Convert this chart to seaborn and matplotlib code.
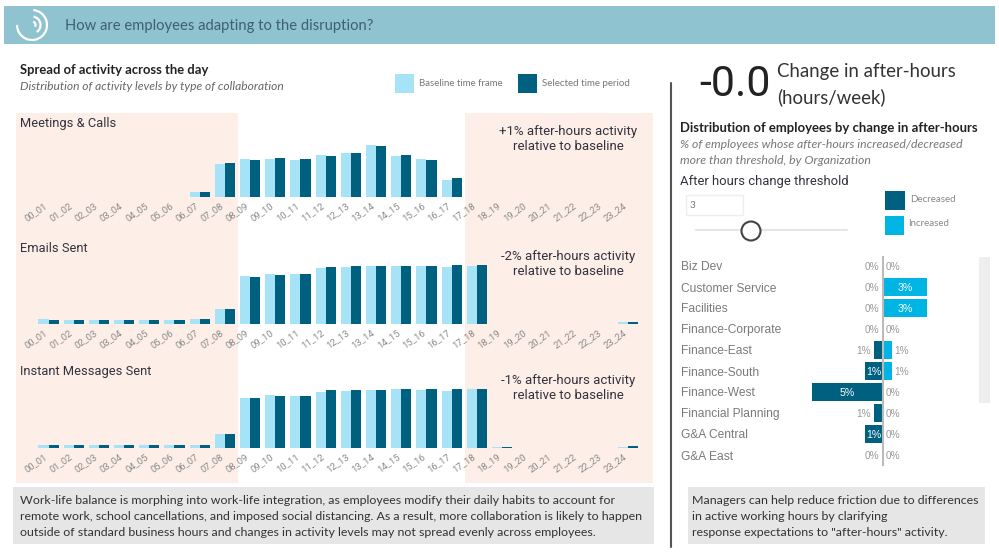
import matplotlib
matplotlib.use("Agg")
import matplotlib.pyplot as plt
from matplotlib.patches import Rectangle, Arc, Circle
from matplotlib.transforms import ScaledTranslation
import numpy as np
import pandas as pd
import seaborn as sns

sns.set_theme(style="white")

W, H = 999, 555
PX = 0.72  # font px to pt at dpi 100

hours = ["00_01","01_02","02_03","03_04","04_05","05_06","06_07","07_08","08_09","09_10","10_11","11_12",
         "12_13","13_14","14_15","15_16","16_17","17_18","18_19","19_20","20_21","21_22","22_23","23_24"]

meet_base = [0,0,0,0,0,0,5,33,37.7,38,37,41.7,44,52,41.3,38.3,17.3,0,0,0,0,0,0,0]
meet_sel  = [0,0,0,0,0,0,4.7,34,37,38.7,38.3,40.7,44.3,50.7,41.7,37,19.3,0,0,0,0,0,0,0]
mail_base = [4.7,4.3,4.3,4.3,4.3,4.3,5,14.7,47.7,49.7,50.3,56,57,57.7,58.3,57.7,57,58.3,0,0,0,0,0,2.3]
mail_sel  = [4.3,4.3,4.3,4.3,4.3,4.3,4.7,14.7,47,48.7,50.3,57,58.3,58.3,58.3,58.3,59,58.7,0,0,0,0,0,2.3]
chat_base = [3.3,3,3,3,3,3,3.3,14,50.3,52.7,52.3,56.3,57.3,58.3,58.7,58.3,57.3,59.3,1.3,0,0,0,0,1.3]
chat_sel  = [3.3,2.7,2.7,2.7,2.7,2.7,3,14,50,51.7,52.3,57.7,58,58,58.7,58.7,59.3,59.3,1.3,0,0,0,0,1.7]

orgs = ["Biz Dev","Customer Service","Facilities","Finance-Corporate","Finance-East",
        "Finance-South","Finance-West","Financial Planning","G&A Central","G&A East"]
decreased = [0,0,0,0,0.6,1.2,4.8,0.6,1.2,0]
increased = [0,3.0,3.0,0,0.6,0.6,0,0,0,0]

LIGHT, DARK = "#A6E3F7", "#00607F"
INC = "#00B4E3"
PEACH = "#FDEEE8"
HEAD = "Lato"
DIN = "Roboto"
ARIAL = "Liberation Sans"

fig = plt.figure(figsize=(W/100, H/100), dpi=100, facecolor="white")
bg = fig.add_axes([0, 0, 1, 1], zorder=0)
bg.set_xlim(0, W); bg.set_ylim(H, 0); bg.axis("off")

def rect(x0, y0, x1, y1, **kw):
    kw.setdefault("lw", 0)
    bg.add_patch(Rectangle((x0, y0), x1-x0, y1-y0, **kw))

def txt(x, y, s, px, color="#333333", family=HEAD, ha="left", **kw):
    bg.text(x, y, s, fontsize=px*PX, color=color, family=family, ha=ha, va="center", **kw)

# banner
rect(4, 6, 995, 44, fc="#8FC3D0")
for r, a, b in [(15, -85, 180), (8.5, -80, 55), (3.5, -70, 30)]:
    bg.add_patch(Arc((32, 25), 2*r, 2*r, theta1=a, theta2=b, color="white", lw=1.6))
txt(65, 26, "How are employees adapting to the disruption?", 14.8, color="#3F5F70")

# left header
txt(20, 69.5, "Spread of activity across the day", 13, color="#222222", weight="bold")
txt(20, 86, "Distribution of activity levels by type of collaboration", 12, color="#666666", style="italic")
rect(395, 74, 414, 93, fc=LIGHT)
txt(419, 83, "Baseline time frame", 9.7, color="#777777")
rect(518, 74, 537, 93, fc=DARK)
txt(542, 83, "Selected time period", 9.8, color="#777777")

# after-hours shaded panels
rect(16, 113, 238, 483, fc=PEACH)
rect(465, 113, 653, 483, fc=PEACH)

# small multiples
panels = [("Meetings & Calls", meet_base, meet_sel, 197, 122, "+1% after-hours activity", 131),
          ("Emails Sent", mail_base, mail_sel, 324, 247, "-2% after-hours activity", 256),
          ("Instant Messages Sent", chat_base, chat_sel, 448, 371, "-1% after-hours activity", 380)]
for title, base, sel, y0, ty, note, ny in panels:
    ax = fig.add_axes([35.9/W, 1-y0/H, 604.8/W, 75/H], zorder=2)
    ax.patch.set_alpha(0)
    df = pd.DataFrame({"hour": hours*2, "value": base+sel,
                       "period": ["Baseline"]*24 + ["Selected"]*24})
    sns.barplot(data=df, x="hour", y="value", hue="period", hue_order=["Baseline", "Selected"],
                palette=[LIGHT, DARK], saturation=1, width=0.8, gap=0, linewidth=0, legend=False, ax=ax)
    ax.set_ylim(0, 75)
    ax.set_xlim(-0.5, 23.5)
    ax.set_xlabel(""); ax.set_ylabel("")
    ax.set_yticks([])
    ax.tick_params(axis="x", length=0, pad=3)
    ax.set_xticks(range(24))
    ax.set_xticklabels(hours, rotation=35, ha="right", rotation_mode="anchor",
                       fontsize=9.5*PX, color="#8A8A8A", family=DIN)
    shift = ScaledTranslation(-5/100, 0, fig.dpi_scale_trans)
    for lab in ax.get_xticklabels():
        lab.set_transform(lab.get_transform() + shift)
    sns.despine(ax=ax, left=True, bottom=True)
    txt(20, ty+1, title, 12.9, color="#333340", family=DIN)
    txt(568, ny+0.5, note, 13.2, color="#333340", family=DIN, ha="center")
    txt(568, ny+15.5, "relative to baseline", 13.2, color="#333340", family=DIN, ha="center")

# divider
bg.plot([671, 671], [83, 547], color="#555555", lw=1.5)

# KPI
txt(699, 85, "-0.0", 43, color="#222222", family=DIN)
txt(777, 72, "Change in after-hours", 18.6, color="#333333")
txt(777, 97, "(hours/week)", 18.6, color="#333333")

# right header
txt(680, 127.5, "Distribution of employees by change in after-hours", 13.1, color="#222222", weight="bold")
txt(680, 144, "% of employees whose after-hours increased/decreased", 12.2, color="#777777", style="italic")
txt(680, 160, "more than threshold, by Organization", 12.2, color="#777777", style="italic")
txt(680, 181.5, "After hours change threshold", 13, color="#333340", family=DIN)

# slicer
rect(686, 195, 743, 215, fc="white", ec="#EEEEEE", lw=1)
txt(690, 205, "3", 10, color="#777777")
bg.plot([696, 847], [230, 230], color="#E6E6E6", lw=1.5)
bg.add_patch(Circle((751, 231), 9.5, fc="white", ec="#444444", lw=1.5, zorder=3))

rect(885, 191, 905, 210, fc=DARK)
txt(910, 199.5, "Decreased", 9.8, color="#888888")
rect(885, 216, 904, 235, fc=INC)
txt(908, 224, "Increased", 9.8, color="#888888")

# scroll bar
rect(979, 257, 990, 403, fc="#EEEEEE")

# diverging bar chart
X0, XP = 882.7, 14.67
AL, AR = 681, 978
axb = fig.add_axes([AL/W, 1-465.5/H, (AR-AL)/W, 210/H], zorder=2)
axb.patch.set_alpha(0)
sns.barplot(y=orgs, x=[-v for v in decreased], color=DARK, saturation=1, width=0.86, linewidth=0, orient="h", ax=axb)
sns.barplot(y=orgs, x=increased, color=INC, saturation=1, width=0.86, linewidth=0, orient="h", ax=axb)
axb.set_xlim((AL-X0)/XP, (AR-X0)/XP)
axb.set_ylim(9.5, -0.5)
axb.axvline(0, color="#BBBBBB", lw=1.5, zorder=5)
axb.set_xticks([])
axb.tick_params(axis="y", length=0, pad=0)
axb.set_yticks(range(len(orgs)))
axb.set_yticklabels(orgs, ha="left", fontsize=12*PX, color="#7A7A7A", family=ARIAL)
sns.despine(ax=axb, left=True, bottom=True)
pad = 3/XP
for i, (d, n) in enumerate(zip(decreased, increased)):
    if d >= 1:
        axb.text(-d/2, i+0.03, f"{d:.0f}%", color="white", ha="center", va="center",
                 fontsize=10.5*PX, family=ARIAL, zorder=6)
    else:
        axb.text(-d-pad, i+0.03, f"{d:.0f}%" if d == 0 else "1%", color="#999999", ha="right", va="center",
                 fontsize=10*PX, family=ARIAL, zorder=6)
    if n >= 1:
        axb.text(n/2, i+0.03, f"{n:.0f}%", color="white", ha="center", va="center",
                 fontsize=10.5*PX, family=ARIAL, zorder=6)
    else:
        axb.text(n+pad, i+0.03, f"{n:.0f}%" if n == 0 else "1%", color="#999999", ha="left", va="center",
                 fontsize=10*PX, family=ARIAL, zorder=6)

# commentary boxes
rect(13, 487, 654, 544, fc="#E6E6E6")
rect(688, 487, 985, 544, fc="#E6E6E6")
left_lines = ["Work-life balance is morphing into work-life integration, as employees modify their daily habits to account for",
              "remote work, school cancellations, and imposed social distancing. As a result, more collaboration is likely to happen",
              "outside of standard business hours and changes in activity levels may not spread evenly across employees."]
right_lines = ["Managers can help reduce friction due to differences",
               "in active working hours by clarifying",
               "response expectations to \"after-hours\" activity."]
for y, a, b in zip([500, 517, 533], left_lines, right_lines):
    txt(20, y, a, 12.4, color="#333333")
    txt(692, y, b, 12.4, color="#333333")

fig.savefig("out.png", dpi=100)
